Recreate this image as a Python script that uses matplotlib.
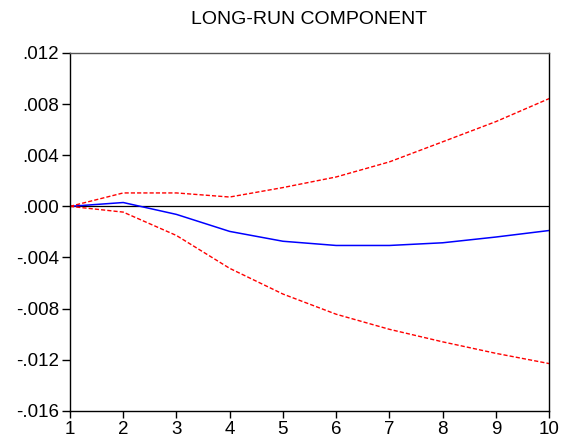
import matplotlib
matplotlib.use("Agg")
import matplotlib.pyplot as plt
from matplotlib.ticker import FuncFormatter

plt.rcParams["font.family"] = ["Liberation Sans", "DejaVu Sans"]

periods = [1, 2, 3, 4, 5, 6, 7, 8, 9, 10]
response = [0.0, 0.0003, -0.00063, -0.00196, -0.00273, -0.00306, -0.00306, -0.00285, -0.0024, -0.00189]
upper_band = [0.0, 0.00105, 0.00105, 0.00073, 0.00147, 0.0023, 0.00348, 0.00505, 0.00663, 0.00843]
lower_band = [0.0, -0.00045, -0.00228, -0.00485, -0.00686, -0.00844, -0.00962, -0.0106, -0.0115, -0.0123]
y_ticks = [-0.016, -0.012, -0.008, -0.004, 0.0, 0.004, 0.008, 0.012]


def fmt(v, pos):
    s = "%.3f" % v
    if s.startswith("-0"):
        return "-" + s[2:]
    if s.startswith("0"):
        return s[1:]
    return s


fig = plt.figure(figsize=(5.69, 4.38), dpi=100)
ax = fig.add_axes([0.123, 0.062, 0.842, 0.817])

ax.axhline(0, color="black", lw=0.9)
ax.plot(periods, response, color="#0000ff", lw=1.1)
ax.plot(periods, upper_band, color="#ff0000", lw=1.0, ls=(0, (3, 1.5)))
ax.plot(periods, lower_band, color="#ff0000", lw=1.0, ls=(0, (3, 1.5)))

ax.set_xlim(1, 10)
ax.set_ylim(-0.016, 0.012)
ax.set_xticks(periods)
ax.set_yticks(y_ticks)
ax.yaxis.set_major_formatter(FuncFormatter(fmt))
ax.tick_params(direction="out", width=1, labelsize=13.5, colors="black", pad=2)
ax.tick_params(axis="y", length=6)
ax.tick_params(axis="x", length=5)

for side in ["left", "bottom", "right"]:
    ax.spines[side].set_color("black")
    ax.spines[side].set_linewidth(1.0)
ax.spines["top"].set_color("#555555")
ax.spines["top"].set_linewidth(1.0)

ax.set_title("LONG-RUN COMPONENT", fontsize=14, pad=21)

fig.savefig("out.png", dpi=100)
